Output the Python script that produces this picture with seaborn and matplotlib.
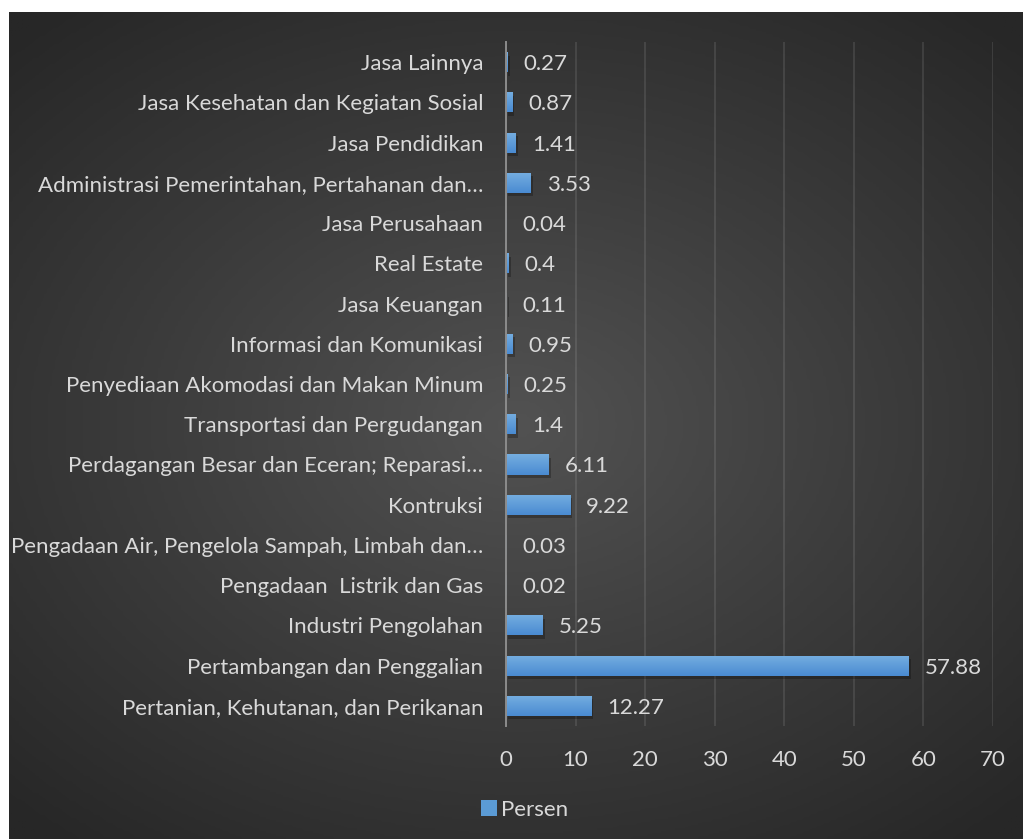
import numpy as np
import matplotlib
matplotlib.use("Agg")
import matplotlib.pyplot as plt
import matplotlib.patheffects as pe
from matplotlib.patches import Patch
from matplotlib.colors import LinearSegmentedColormap
import seaborn as sns

# Data (top to bottom as displayed)
kategori = [
    "Jasa Lainnya",
    "Jasa Kesehatan dan Kegiatan Sosial",
    "Jasa Pendidikan",
    "Administrasi Pemerintahan, Pertahanan dan…",
    "Jasa Perusahaan",
    "Real Estate",
    "Jasa Keuangan",
    "Informasi dan Komunikasi",
    "Penyediaan Akomodasi dan Makan Minum",
    "Transportasi dan Pergudangan",
    "Perdagangan Besar dan Eceran; Reparasi…",
    "Kontruksi",
    "Pengadaan Air, Pengelola Sampah, Limbah dan…",
    "Pengadaan  Listrik dan Gas",
    "Industri Pengolahan",
    "Pertambangan dan Penggalian",
    "Pertanian, Kehutanan, dan Perikanan",
]
persen = [0.27, 0.87, 1.41, 3.53, 0.04, 0.4, 0.11, 0.95, 0.25, 1.4,
          6.11, 9.22, 0.03, 0.02, 5.25, 57.88, 12.27]
x_ticks = [0, 10, 20, 30, 40, 50, 60, 70]

sns.set_theme(style="white")
plt.rcParams["font.family"] = ["Lato", "DejaVu Sans"]

W, H = 1023, 839
fs = 16
fig = plt.figure(figsize=(W / 100, H / 100), dpi=100, facecolor="white")

# dark radial background
bg = fig.add_axes([9 / W, 0, 1 - 9 / W, 1 - 12 / H])
yy, xx = np.mgrid[-1:1:300j, -1:1:300j]
r = np.sqrt((xx * 0.9) ** 2 + (yy * 1.0) ** 2)
bg_cmap = LinearSegmentedColormap.from_list("bg", ["#525252", "#3c3c3c", "#272727"])
bg.imshow(r, cmap=bg_cmap, aspect="auto", extent=[0, 1, 0, 1], vmin=0, vmax=1.3)
bg.set_axis_off()

ax = fig.add_axes([506 / W, 1 - 726 / H, (993 - 506) / W, (726 - 42) / H])
ax.patch.set_alpha(0)

text_col = "#d9d9d9"
sns.barplot(x=persen, y=kategori, orient="h", color="#5b9bd5", width=0.5,
            linewidth=0, ax=ax, zorder=3)

# gradient + soft shadow on bars
bar_cmap = LinearSegmentedColormap.from_list("bar", ["#75aee0", "#4a8bd2"])
grad = np.linspace(0, 1, 50).reshape(-1, 1)
for p in ax.patches:
    p.set_edgecolor("none")
    p.set_path_effects([pe.SimplePatchShadow(offset=(1.5, -2.5), shadow_rgbFace="black", alpha=0.25),
                        pe.Normal()])
    x0, y0 = p.get_x(), p.get_y()
    w, h = p.get_width(), p.get_height()
    im = ax.imshow(grad, cmap=bar_cmap, aspect="auto", zorder=4,
                   extent=[x0, x0 + w, y0 + h, y0])
    im.set_clip_path(p)

for i, v in enumerate(persen):
    ax.annotate(f"{v:g}", xy=(v, i), xytext=(11.5, 0), textcoords="offset points",
                va="center_baseline", ha="left", color=text_col, fontsize=fs)

ax.set_xlim(0, 70)
ax.set_ylim(len(kategori) - 0.5, -0.5)
ax.set_xticks(x_ticks)
ax.set_xlabel("")
ax.set_ylabel("")
ax.xaxis.grid(True, color="white", alpha=0.1, lw=1.4, zorder=0)
ax.set_axisbelow(True)
for s in ["top", "right", "bottom"]:
    ax.spines[s].set_visible(False)
ax.spines["left"].set_color("#8c8c8c")
ax.spines["left"].set_linewidth(1.4)
ax.spines["left"].set_zorder(5)
ax.tick_params(axis="both", length=0, colors=text_col, labelsize=fs)
ax.tick_params(axis="y", pad=16.5)
ax.tick_params(axis="x", pad=17)

fig.legend(handles=[Patch(facecolor="#5b9bd5", edgecolor="none")], labels=["Persen"],
           loc="center", bbox_to_anchor=(525 / W, 1 - 810 / H), frameon=False,
           labelcolor=text_col, fontsize=fs, handlelength=0.7, handleheight=0.7,
           handletextpad=0.2)

fig.savefig("out.png", dpi=100, facecolor="white")
